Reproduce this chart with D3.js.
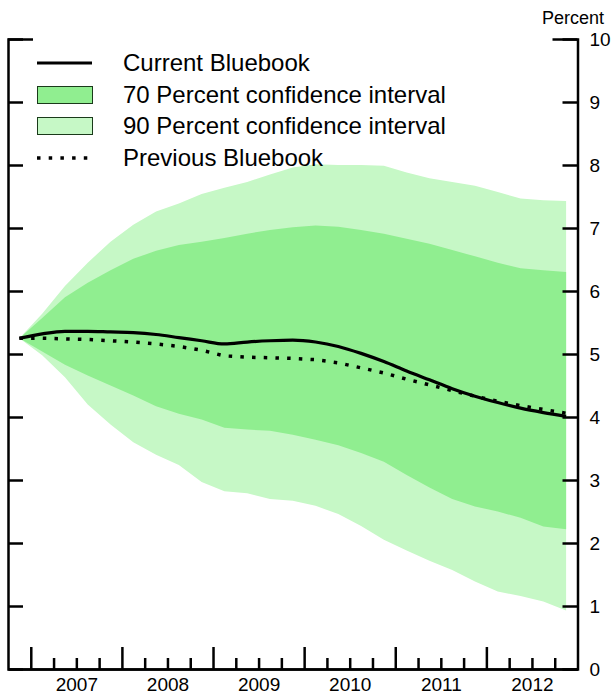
<!DOCTYPE html>
<html lang="en">
<head>
  <meta charset="UTF-8" />
  <title>Federal funds rate forecast</title>
  <script src="https://d3js.org/d3.v7.min.js"></script>
  <style>
    body { margin: 0; background: #fff; font-family: "Liberation Sans", Arial, sans-serif; }
    .axis path, .axis line { stroke: #000; stroke-width: 2.5; }
    .axis text { font-family: "Liberation Sans", Arial, sans-serif; fill: #000; }
    .legend text { font-size: 24px; }
  </style>
</head>
<body>
  <svg id="chart" width="611" height="694"></svg>

  <script>
    // quarters from 2006Q4 to 2012Q4
    const quarters = [
      "2006Q4",
      "2007Q1", "2007Q2", "2007Q3", "2007Q4",
      "2008Q1", "2008Q2", "2008Q3", "2008Q4",
      "2009Q1", "2009Q2", "2009Q3", "2009Q4",
      "2010Q1", "2010Q2", "2010Q3", "2010Q4",
      "2011Q1", "2011Q2", "2011Q3", "2011Q4",
      "2012Q1", "2012Q2", "2012Q3", "2012Q4"
    ];
    const currentBluebook = [5.25, 5.32, 5.36, 5.36, 5.35, 5.34, 5.31, 5.26, 5.21, 5.16, 5.19, 5.21, 5.22,
      5.19, 5.12, 5.01, 4.88, 4.73, 4.59, 4.45, 4.33, 4.23, 4.14, 4.07, 4.01];
    const previousBluebook = [5.25, 5.25, 5.24, 5.23, 5.21, 5.19, 5.16, 5.12, 5.06, 4.97, 4.95, 4.94, 4.93,
      4.91, 4.86, 4.78, 4.70, 4.60, 4.51, 4.42, 4.33, 4.25, 4.18, 4.12, 4.06];
    const upper70 = [5.25, 5.57, 5.90, 6.13, 6.33, 6.51, 6.64, 6.73, 6.78, 6.84, 6.91, 6.97, 7.01,
      7.04, 7.02, 6.97, 6.91, 6.83, 6.75, 6.65, 6.55, 6.45, 6.36, 6.33, 6.30];
    const lower70 = [5.25, 5.04, 4.83, 4.66, 4.50, 4.34, 4.17, 4.05, 3.96, 3.83, 3.80, 3.78, 3.72,
      3.64, 3.55, 3.43, 3.29, 3.08, 2.88, 2.70, 2.58, 2.50, 2.40, 2.26, 2.22];
    const upper90 = [5.25, 5.64, 6.08, 6.45, 6.78, 7.05, 7.26, 7.39, 7.54, 7.64, 7.73, 7.85, 7.96,
      8.01, 8.00, 8.00, 7.99, 7.88, 7.79, 7.73, 7.67, 7.57, 7.47, 7.44, 7.43];
    const lower90 = [5.25, 4.98, 4.63, 4.20, 3.88, 3.60, 3.40, 3.24, 2.97, 2.82, 2.79, 2.70, 2.67,
      2.59, 2.46, 2.27, 2.05, 1.88, 1.72, 1.57, 1.39, 1.23, 1.16, 1.07, 0.93];
    const years = [2007, 2008, 2009, 2010, 2011, 2012];
    const yTicks = [0, 1, 2, 3, 4, 5, 6, 7, 8, 9, 10];
    const legendLabels = ["Current Bluebook", "70 Percent confidence interval",
      "90 Percent confidence interval", "Previous Bluebook"];

    const dark = "#90ee90", light = "#c6f8c6";
    const svg = d3.select("#chart");

    // quarter midpoint as decimal year
    const qTime = q => +q.slice(0, 4) + (+q.slice(5) - 1) * 0.25 + 0.125;

    const x = d3.scaleLinear().domain([2006.75, 2013]).range([8, 577.5]);
    const y = d3.scaleLinear().domain([0, 10]).range([669, 39]);

    const rows = quarters.map((q, i) => ({
      t: qTime(q), cur: currentBluebook[i], prev: previousBluebook[i],
      u70: upper70[i], l70: lower70[i], u90: upper90[i], l90: lower90[i]
    }));

    svg.append("path").datum(rows)
      .attr("fill", light)
      .attr("d", d3.area().x(d => x(d.t)).y0(d => y(d.l90)).y1(d => y(d.u90)));
    svg.append("path").datum(rows)
      .attr("fill", dark)
      .attr("d", d3.area().x(d => x(d.t)).y0(d => y(d.l70)).y1(d => y(d.u70)));

    svg.append("path").datum(rows)
      .attr("fill", "none").attr("stroke", "#000").attr("stroke-width", 3.5)
      .attr("stroke-dasharray", "3.5,8.2")
      .attr("d", d3.line().x(d => x(d.t)).y(d => y(d.prev)));
    svg.append("path").datum(rows)
      .attr("fill", "none").attr("stroke", "#000").attr("stroke-width", 3.2)
      .attr("stroke-linejoin", "round")
      .attr("d", d3.line().x(d => x(d.t)).y(d => y(d.cur)).curve(d3.curveMonotoneX));

    // axes
    const quarterTicks = d3.range(2007, 2013, 0.25);
    svg.append("g").attr("class", "axis")
      .attr("transform", `translate(0,${y(0)})`)
      .call(d3.axisBottom(x).tickValues(quarterTicks.filter(t => t % 1 !== 0))
        .tickSize(-11).tickSizeOuter(0).tickFormat(""));
    svg.append("g").attr("class", "axis")
      .attr("transform", `translate(0,${y(0)})`)
      .call(d3.axisBottom(x).tickValues(years).tickSize(-22).tickSizeOuter(0).tickFormat(""));
    svg.append("g").attr("class", "axis")
      .attr("transform", `translate(0,${y(0)})`)
      .call(d3.axisBottom(x).tickValues(years.map(v => v + 0.5)).tickSize(0).tickPadding(8)
        .tickFormat(d => Math.floor(d)))
      .call(g => g.select(".domain").remove())
      .selectAll("text").attr("font-size", 19).attr("dy", "0.75em");

    svg.append("g").attr("class", "axis")
      .attr("transform", `translate(${x.range()[1]},0)`)
      .call(d3.axisRight(y).tickValues(yTicks).tickSizeOuter(0).tickPadding(12)
        .tickSize(-15).tickFormat(d3.format("d")))
      .call(g => g.selectAll(".tick line").filter(d => d === 10).attr("x2", -25))
      .selectAll("text").attr("font-size", 19);
    svg.append("g").attr("class", "axis")
      .attr("transform", `translate(${x.range()[0]},0)`)
      .call(d3.axisLeft(y).tickValues(yTicks.slice(1)).tickSizeOuter(0)
        .tickSize(-15).tickFormat(""))
      .call(g => g.selectAll(".tick line").filter(d => d === 10).attr("x2", 25));

    svg.append("text")
      .attr("x", 604).attr("y", 24)
      .attr("text-anchor", "end").attr("font-size", 18)
      .text("Percent");

    // legend
    const lg = svg.append("g").attr("class", "legend");
    const ly = [63, 95, 126, 158];
    lg.append("line").attr("x1", 37).attr("x2", 92).attr("y1", ly[0]).attr("y2", ly[0])
      .attr("stroke", "#000").attr("stroke-width", 3.2);
    lg.append("rect").attr("x", 37.5).attr("y", ly[1] - 8.5).attr("width", 55).attr("height", 17)
      .attr("fill", dark).attr("stroke", "#1a3a1a").attr("stroke-width", 1);
    lg.append("rect").attr("x", 37.5).attr("y", ly[2] - 8.5).attr("width", 55).attr("height", 17)
      .attr("fill", light).attr("stroke", "#1a3a1a").attr("stroke-width", 1);
    lg.append("line").attr("x1", 37).attr("x2", 92).attr("y1", ly[3]).attr("y2", ly[3])
      .attr("stroke", "#000").attr("stroke-width", 3.5).attr("stroke-dasharray", "3.5,8.2");
    lg.selectAll("text").data(legendLabels).join("text")
      .attr("x", 123).attr("y", (d, i) => ly[i])
      .attr("dy", "0.35em")
      .text(d => d);
  </script>
</body>
</html>
